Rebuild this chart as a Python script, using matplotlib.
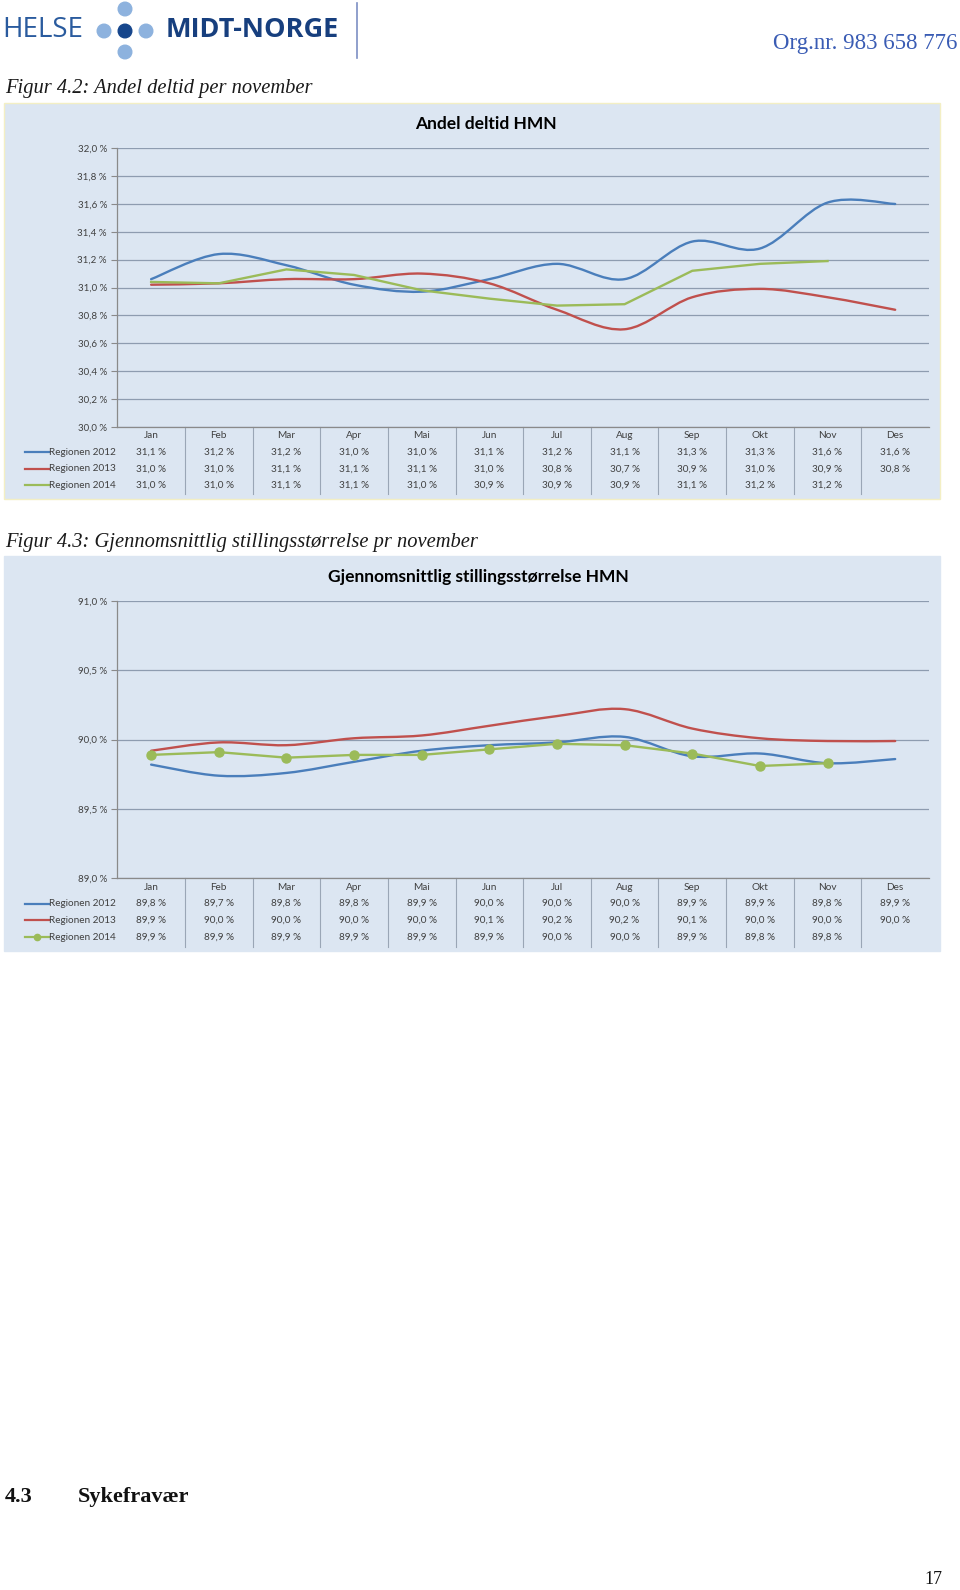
import numpy as np
import matplotlib
matplotlib.use('Agg')
import matplotlib.pyplot as plt
from matplotlib.path import Path
from matplotlib.patches import PathPatch, Rectangle, Circle
from matplotlib.transforms import blended_transform_factory
from matplotlib.ticker import FuncFormatter, MultipleLocator

#Data
months = ['Jan', 'Feb', 'Mar', 'Apr', 'Mai', 'Jun', 'Jul', 'Aug', 'Sep', 'Okt', 'Nov', 'Des']
series_names = ['Regionen 2012', 'Regionen 2013', 'Regionen 2014']

deltid_2012 = [31.06, 31.24, 31.16, 31.02, 30.97, 31.06, 31.17, 31.06, 31.33, 31.28, 31.61, 31.60]
deltid_2013 = [31.02, 31.03, 31.06, 31.06, 31.10, 31.03, 30.84, 30.70, 30.93, 30.99, 30.93, 30.84]
deltid_2014 = [31.04, 31.03, 31.13, 31.09, 30.98, 30.92, 30.87, 30.88, 31.12, 31.17, 31.19]

stilling_2012 = [89.82, 89.74, 89.76, 89.84, 89.92, 89.96, 89.98, 90.02, 89.88, 89.90, 89.83, 89.86]
stilling_2013 = [89.92, 89.98, 89.96, 90.01, 90.03, 90.10, 90.17, 90.22, 90.08, 90.01, 89.99, 89.99]
stilling_2014 = [89.89, 89.91, 89.87, 89.89, 89.89, 89.93, 89.97, 89.96, 89.90, 89.81, 89.83]

colors = ['#4a7ebb', '#c0504d', '#9bbb59']
bg = '#dce6f2'
grid_c = '#8e9cb0'
txt_c = '#404040'
sans = ['Lato', 'DejaVu Sans']
serif = ['Liberation Serif', 'DejaVu Serif']

W, H = 960, 1590
fig = plt.figure(figsize=(W/100, H/100), dpi=100)

#page axes in pixel coordinates (y down)
page = fig.add_axes([0, 0, 1, 1], zorder=-5)
page.set_xlim(0, W)
page.set_ylim(H, 0)
page.axis('off')


def pct(v):
    return ('%.1f' % v).replace('.', ',') + ' %'


def smooth_path(y):
    #Excel style smoothed line as cubic bezier segments
    n = len(y)
    pts = [(i, y[i]) for i in range(n)]
    verts = [pts[0]]
    codes = [Path.MOVETO]
    for i in range(n-1):
        p0 = pts[max(i-1, 0)]
        p1 = pts[i]
        p2 = pts[i+1]
        p3 = pts[min(i+2, n-1)]
        c1 = (p1[0]+(p2[0]-p0[0])/6, p1[1]+(p2[1]-p0[1])/6)
        c2 = (p2[0]-(p3[0]-p1[0])/6, p2[1]-(p3[1]-p1[1])/6)
        verts += [c1, c2, p2]
        codes += [Path.CURVE4]*3
    return Path(verts, codes)


def chart(box, frame, title, title_xy, data, ylim, step, rows_y, table_bottom, marker):
    l, t, r, b = box
    page.add_patch(Rectangle((frame[0], frame[1]), frame[2]-frame[0], frame[3]-frame[1],
                             facecolor=bg, edgecolor=frame[4], lw=1))
    ax = fig.add_axes([l/W, 1-b/H, (r-l)/W, (b-t)/H])
    ax.set_facecolor(bg)
    ax.set_xlim(-0.5, len(months)-0.5)
    ax.set_ylim(*ylim)
    ax.yaxis.set_major_locator(MultipleLocator(step))
    ax.yaxis.set_major_formatter(FuncFormatter(lambda v, p: pct(v)))
    ax.grid(axis='y', color=grid_c, lw=0.9)
    ax.set_axisbelow(True)
    for s in ['top', 'right']:
        ax.spines[s].set_visible(False)
    for s in ['left', 'bottom']:
        ax.spines[s].set_color('#8a8a8a')
        ax.spines[s].set_linewidth(0.9)
    ax.set_xticks([])
    ax.tick_params(axis='y', length=4, width=0.8, color='#8a8a8a', pad=3.5,
                   labelsize=7, labelcolor=txt_c)
    for lab in ax.get_yticklabels():
        lab.set_family(sans)

    #lines
    for k in range(3):
        y = data[k]
        if k < 2:
            ax.add_patch(PathPatch(smooth_path(y), facecolor='none', edgecolor=colors[k],
                                   lw=1.7, capstyle='round', zorder=3))
        else:
            ax.plot(range(len(y)), y, color=colors[k], lw=1.7, zorder=4,
                    marker='o' if marker else None, markersize=6.5)

    fig.text(title_xy[0]/W, 1-title_xy[1]/H, title, ha='center', va='center',
             fontsize=12.5, fontweight='bold', family=sans, color='#000000')

    #data table under the axis
    tr = blended_transform_factory(ax.transData, page.transData)
    for i in range(1, len(months)):
        ax.plot([i-0.5, i-0.5], [b, table_bottom], transform=tr, color='#9aa6b6',
                lw=0.8, clip_on=False)
    for i, m in enumerate(months):
        ax.text(i, rows_y[0], m, transform=tr, ha='center', va='center',
                fontsize=7.2, color=txt_c, family=sans)
    for k in range(3):
        ry = rows_y[k+1]
        for i, v in enumerate(data[k]):
            ax.text(i, ry, pct(v), transform=tr, ha='center', va='center',
                    fontsize=7.2, color=txt_c, family=sans)
        page.plot([25, 49], [ry, ry], color=colors[k], lw=1.6)
        if marker and k == 2:
            page.plot([37], [ry], marker='o', color=colors[k], markersize=4.5)
        page.text(49, ry, series_names[k], ha='left', va='center', fontsize=7.2,
                  color=txt_c, family=sans)
    return ax


chart((117.3, 148.3, 929, 426.7), (4, 103, 940, 499, '#f3efc4'), 'Andel deltid HMN',
      (486, 124), [deltid_2012, deltid_2013, deltid_2014], (30.0, 32.0), 0.2,
      [435, 452.3, 468.7, 485], 494, False)

chart((117.3, 601, 929, 878.3), (4, 556, 940, 951, bg),
      'Gjennomsnittlig stillingsstørrelse HMN', (478, 577),
      [stilling_2012, stilling_2013, stilling_2014], (89.0, 91.0), 0.5,
      [887.3, 903.5, 920.3, 937], 947, True)

#page header
page.text(2, 30, 'HELSE', ha='left', va='center', fontsize=20, color='#2a5b9e',
          family=['Open Sans', 'DejaVu Sans'])
for (cx, cy, c) in [(125, 9, '#8db2de'), (104, 31, '#8db2de'), (146, 31, '#8db2de'),
                    (125, 52, '#8db2de'), (125, 31, '#16468c')]:
    page.add_patch(Circle((cx, cy), 6.8, color=c))
page.text(166, 30, 'MIDT-NORGE', ha='left', va='center', fontsize=19.5, fontweight='bold',
          color='#173f7e', family=['Open Sans', 'DejaVu Sans'])
page.plot([357, 357], [3, 58], color='#7d8fc4', lw=1.2)
page.text(957, 44, 'Org.nr. 983 658 776', ha='right', va='center', fontsize=16.5,
          color='#3a5cb4', family=serif)

page.text(5, 89, 'Figur 4.2: Andel deltid per november', ha='left', va='center',
          fontsize=14.8, style='italic', color='#1a1a1a', family=serif)
page.text(5, 542, 'Figur 4.3: Gjennomsnittlig stillingsstørrelse pr november', ha='left',
          va='center', fontsize=14.8, style='italic', color='#1a1a1a', family=serif)

page.text(5, 1497, '4.3', ha='left', va='center', fontsize=16, fontweight='bold',
          color='#111111', family=serif)
page.text(78, 1497, 'Sykefravær', ha='left', va='center', fontsize=16, fontweight='bold',
          color='#111111', family=serif)
page.text(942, 1580, '17', ha='right', va='center', fontsize=13, color='#111111', family=serif)

plt.savefig('out.png', dpi=100)
